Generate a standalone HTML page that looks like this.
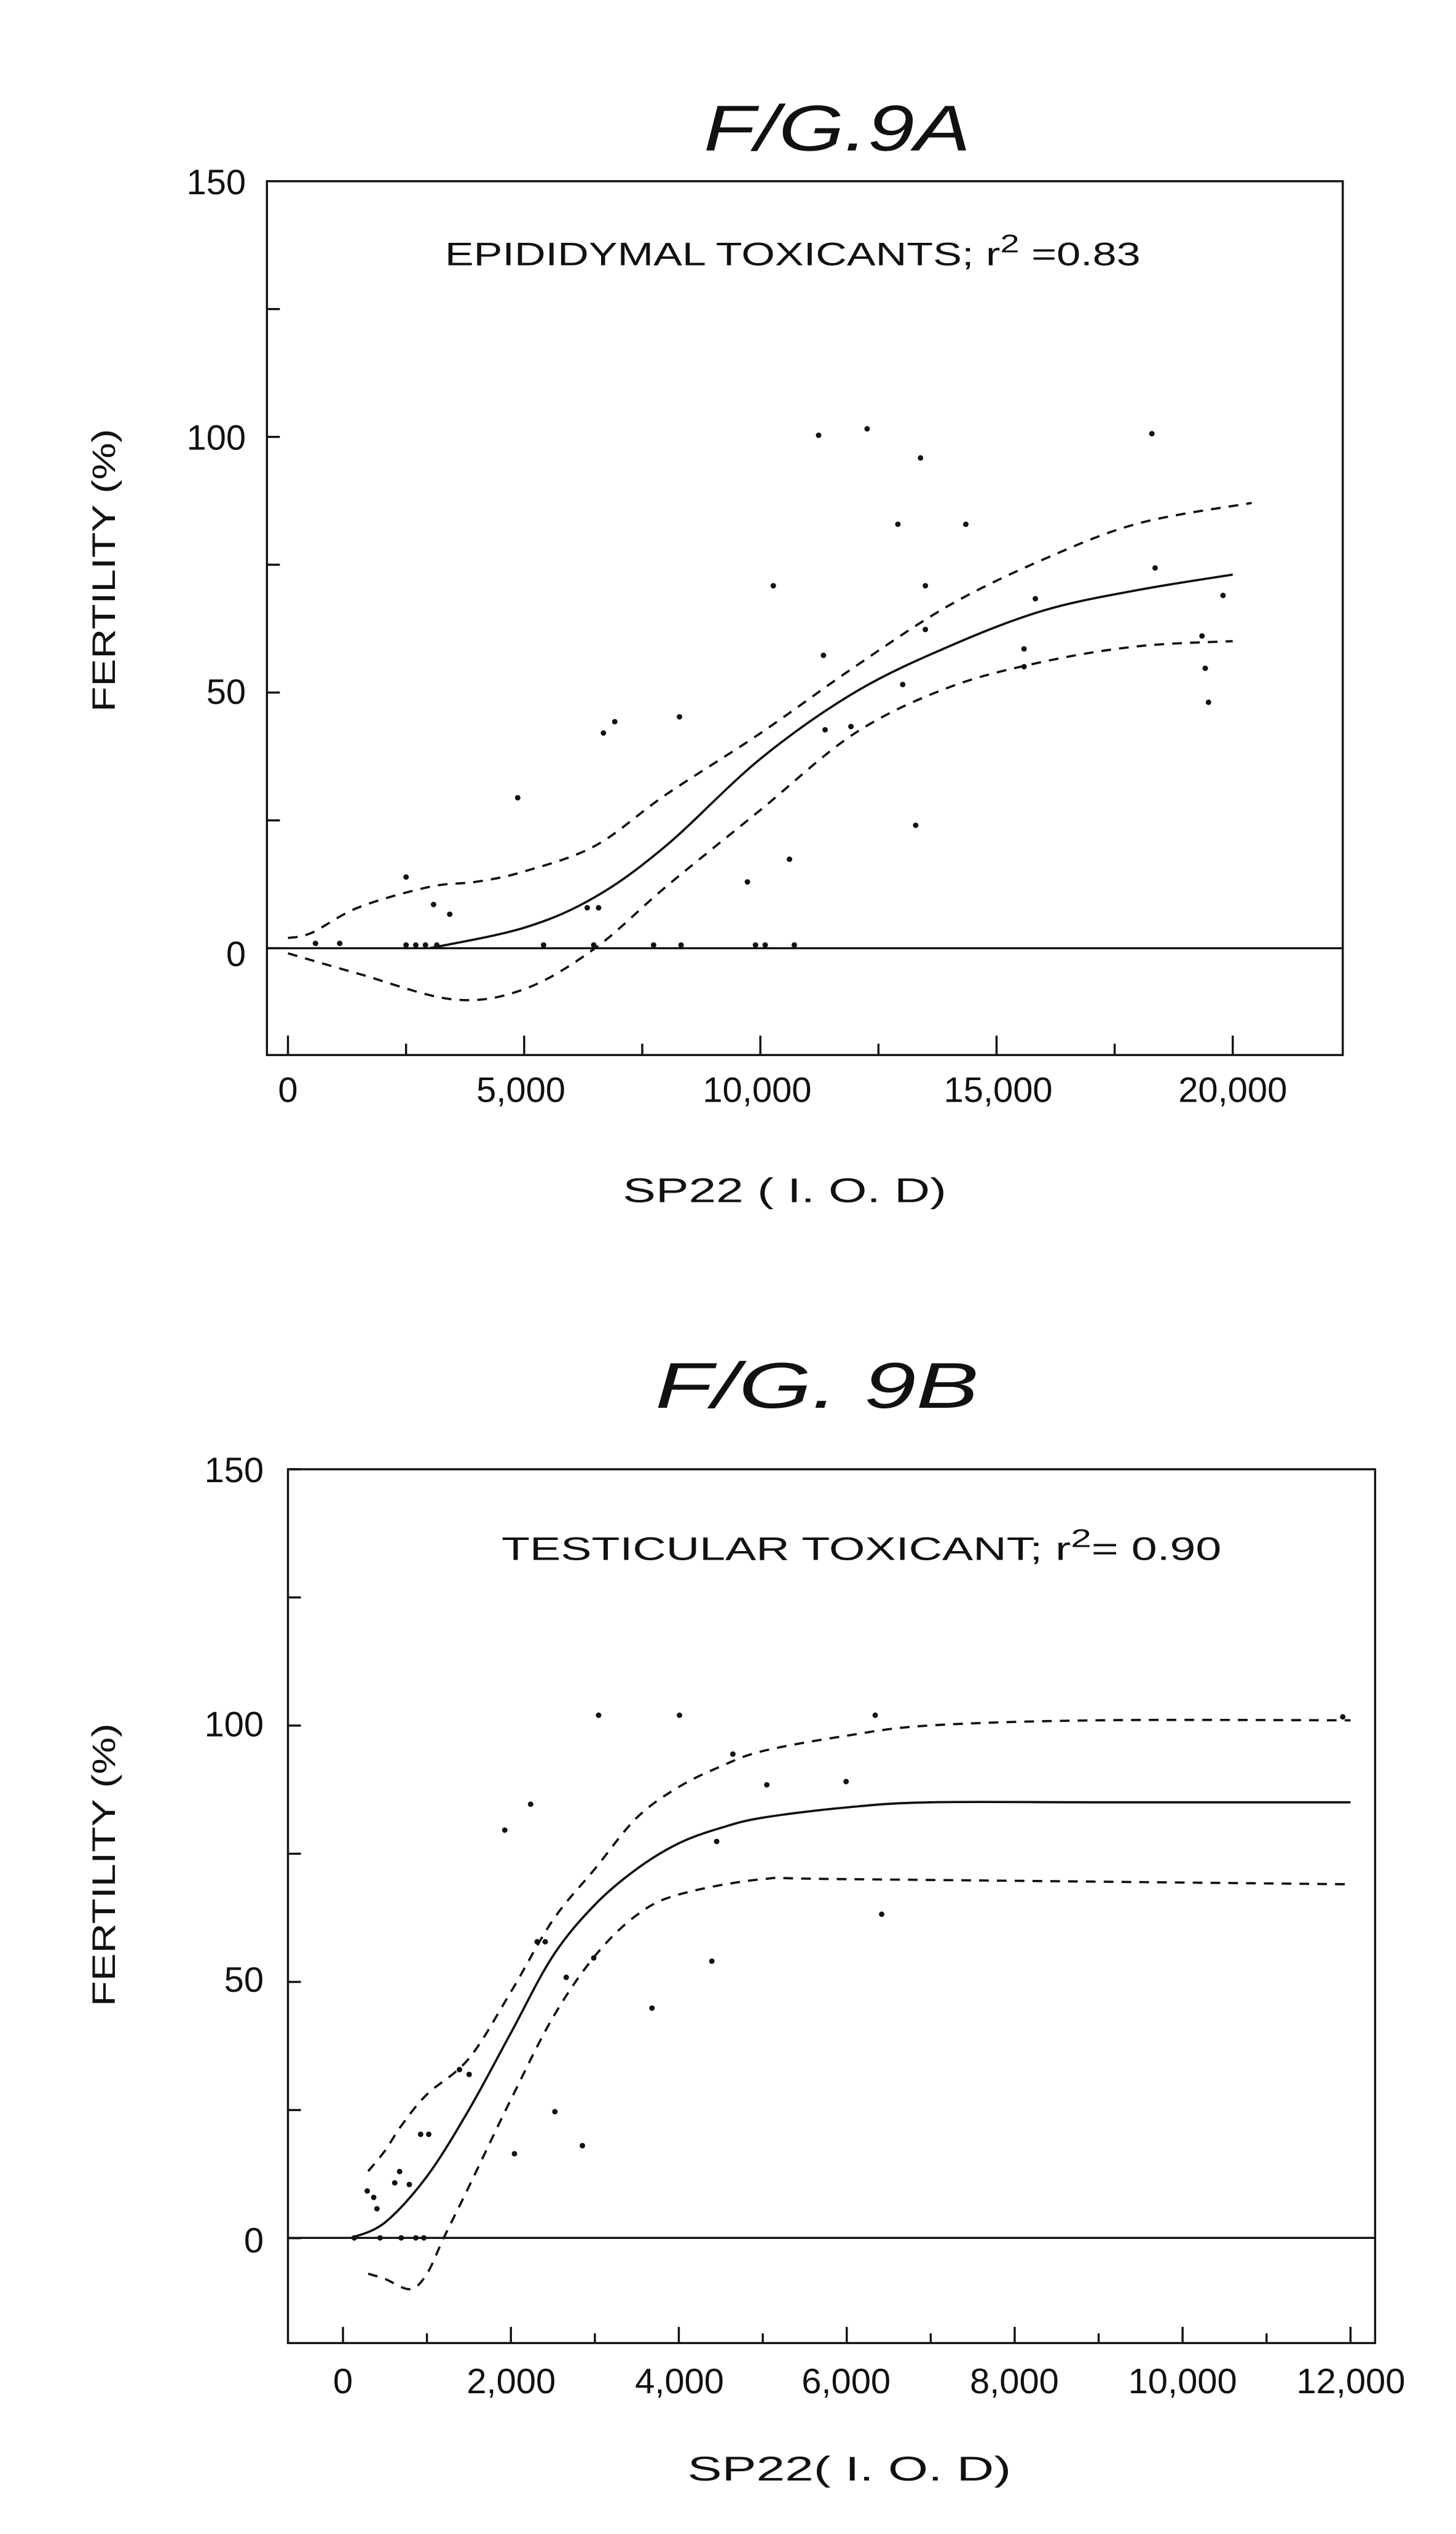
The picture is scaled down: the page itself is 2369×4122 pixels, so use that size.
<!DOCTYPE html>
<html><head><meta charset="utf-8"><style>
html,body{margin:0;padding:0;background:#fff}
svg{display:block}
text{font-family:"Liberation Sans",sans-serif;fill:#111}
</style></head><body>
<svg id="s" width="2369" height="4122" viewBox="0 0 900 1566" preserveAspectRatio="none" xmlns="http://www.w3.org/2000/svg">
<rect x="0" y="0" width="900" height="1566" fill="#fff"/>
<g fill="none" stroke="#111" stroke-width="1.3">
<rect x="165" y="112" width="665" height="540"/>
<line x1="165" y1="586" x2="830" y2="586"/>
<rect x="178" y="908" width="672" height="540"/>
<line x1="178" y1="1383" x2="850" y2="1383"/>
</g>
<g id="dyn"></g>
<text x="435" y="93" font-size="40" font-style="italic" textLength="165" lengthAdjust="spacingAndGlyphs">F/G.9A</text>
<text x="275" y="164" font-size="20" textLength="430" lengthAdjust="spacingAndGlyphs">EPIDIDYMAL TOXICANTS; r<tspan dy="-8" font-size="16">2</tspan><tspan dy="8"> =0.83</tspan></text>
<g font-size="22" text-anchor="end">
<text x="152" y="120">150</text><text x="152" y="278">100</text><text x="152" y="435">50</text><text x="152" y="597">0</text>
</g>
<g font-size="22" text-anchor="middle">
<text x="178" y="681">0</text><text x="322" y="681">5,000</text><text x="468" y="681">10,000</text><text x="617" y="681">15,000</text><text x="762" y="681">20,000</text>
</g>
<text x="385" y="743" font-size="21" textLength="200" lengthAdjust="spacingAndGlyphs">SP22 ( I. O. D)</text>
<text transform="translate(71,440) rotate(-90)" font-size="20" textLength="175" lengthAdjust="spacingAndGlyphs">FERTILITY (%)</text>
<text x="405" y="870" font-size="40" font-style="italic" textLength="200" lengthAdjust="spacingAndGlyphs">F/G. 9B</text>
<text x="310" y="964" font-size="20" textLength="445" lengthAdjust="spacingAndGlyphs">TESTICULAR TOXICANT; r<tspan dy="-8" font-size="16">2</tspan><tspan dy="8">= 0.90</tspan></text>
<g font-size="22" text-anchor="end">
<text x="163" y="916">150</text><text x="163" y="1073">100</text><text x="163" y="1231">50</text><text x="163" y="1392">0</text>
</g>
<g font-size="22" text-anchor="middle">
<text x="212" y="1479">0</text><text x="316" y="1479">2,000</text><text x="420" y="1479">4,000</text><text x="523" y="1479">6,000</text><text x="627" y="1479">8,000</text><text x="731" y="1479">10,000</text><text x="835" y="1479">12,000</text>
</g>
<text x="425" y="1533" font-size="21" textLength="200" lengthAdjust="spacingAndGlyphs">SP22( I. O. D)</text>
<text transform="translate(71,1240) rotate(-90)" font-size="20" textLength="175" lengthAdjust="spacingAndGlyphs">FERTILITY (%)</text>
</svg>
<script>
(function(){
var g=document.getElementById('dyn'),NS='http://www.w3.org/2000/svg';
function el(t,a){var e=document.createElementNS(NS,t);for(var k in a)e.setAttribute(k,a[k]);g.appendChild(e);return e;}
function curve(pts,fx,fy,dash){
 var p=pts.map(function(q){return [fx(q[0]),fy(q[1])];});
 var d='M'+p[0][0]+','+p[0][1];
 for(var i=0;i<p.length-1;i++){
  var p0=p[i-1]||p[i],p1=p[i],p2=p[i+1],p3=p[i+2]||p2;
  var c1=[p1[0]+(p2[0]-p0[0])/6,p1[1]+(p2[1]-p0[1])/6],c2=[p2[0]-(p3[0]-p1[0])/6,p2[1]-(p3[1]-p1[1])/6];
  d+=' C'+c1+' '+c2+' '+p2;
 }
 var a={d:d,fill:'none',stroke:'#111','stroke-width':1.4};
 if(dash)a['stroke-dasharray']='6,5';
 el('path',a);
}
function dots(arr){arr.forEach(function(q){el('circle',{cx:q[0],cy:q[1],r:1.7,fill:'#111'});});}
var ax=function(v){return 178+v*0.0292},ay=function(f){return 586-f*3.163};
for(var i=0;i<=6;i++){var y=112+i*79;el('line',{x1:165,y1:y,x2:173,y2:y,stroke:'#111','stroke-width':1.3});}
for(var i=0;i<=8;i++){var x=178+i*73;el('line',{x1:x,y1:652,x2:x,y2:(i%2?645:640),stroke:'#111','stroke-width':1.3});}
curve([[3000,0],[5000,4],[6500,10],[8000,20],[10000,37],[12000,50],[14000,59],[16000,66],[18000,70],[20000,73]],ax,ay,false);
curve([[0,2],[500,3],[1500,8],[3000,12],[4000,13],[5000,15],[6500,20],[8000,30],[10000,42],[12000,55],[14000,67],[16000,76],[18000,83],[20400,87]],ax,ay,true);
curve([[0,-1],[1500,-5],[3500,-10],[5000,-8],[6500,0],[8000,12],[10000,27],[12000,42],[14000,51],[16000,56],[18000,59],[20000,60]],ax,ay,true);
dots([[251,542],[268,559],[278,565],[195,583],[210,583],[251,584],[257,584],[263,584],[270,584],[320,493],[336,584],[363,561],[370,561],[367,584],[373,453],[380,446],[404,584],[420,443],[421,584],[462,545],[467,584],[473,584],[478,362],[488,531],[491,584],[506,269],[509,405],[510,451],[526,449],[536,265],[555,324],[558,423],[566,510],[569,283],[572,389],[597,324],[633,401],[633,412],[712,268],[714,351],[743,393],[745,413],[747,434],[756,368],[572,362],[640,370]]);
var bx=function(v){return 212+v*0.0519},by=function(f){return 1383-f*3.167};
for(var i=0;i<=6;i++){var y=908+i*79.2;el('line',{x1:178,y1:y,x2:186,y2:y,stroke:'#111','stroke-width':1.3});}
for(var i=0;i<=12;i++){var x=212+i*51.9;el('line',{x1:x,y1:1448,x2:x,y2:(i%2?1442:1438),stroke:'#111','stroke-width':1.3});}
curve([[100,0],[500,3],[1000,12],[1500,25],[2000,40],[2500,55],[3000,65],[3500,72],[4000,77],[4500,80],[5000,82],[6000,84],[7000,85],[9000,85],[12000,85]],bx,by,false);
curve([[300,13],[500,17],[700,22],[1000,28],[1500,35],[2000,48],[2500,62],[3000,72],[3500,82],[4000,88],[4500,92],[5000,95],[6000,98],[7000,100],[9000,101],[12000,101]],bx,by,true);
curve([[300,-7],[500,-8],[800,-10],[1000,-7],[1200,0],[1500,10],[2000,27],[2500,43],[3000,55],[3500,63],[4000,67],[5000,70],[6000,70],[12000,69]],bx,by,true);
dots([[227,1354],[231,1358],[233,1365],[244,1349],[247,1342],[253,1350],[262,1383],[219,1383],[235,1383],[257,1383],[248,1383],[260,1319],[265,1319],[284,1279],[290,1282],[312,1131],[318,1331],[328,1115],[332,1200],[337,1200],[343,1305],[350,1222],[360,1326],[367,1210],[370,1060],[403,1241],[420,1060],[440,1212],[443,1138],[453,1084],[474,1103],[523,1101],[541,1060],[545,1183],[830,1061]]);
})();
</script>
</body></html>
